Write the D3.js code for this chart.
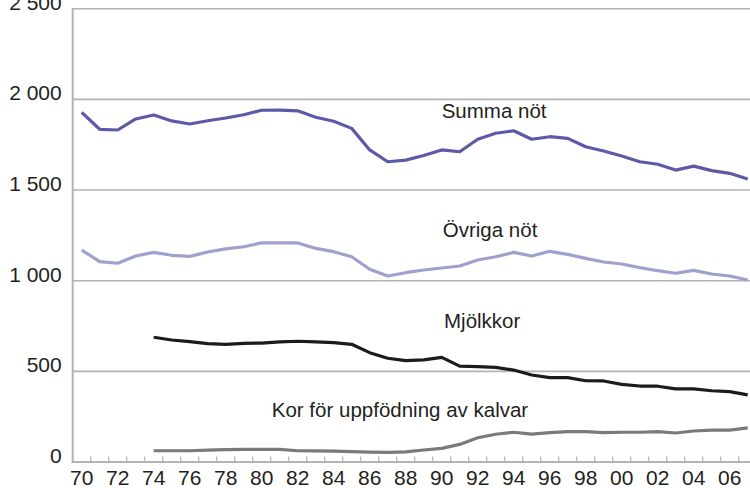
<!DOCTYPE html>
<html><head><meta charset="utf-8">
<script src="https://cdn.jsdelivr.net/npm/d3@7"></script>
<style>
html,body{margin:0;padding:0;background:#fff;overflow:hidden}
svg{display:block;font-family:"Liberation Sans",Arial,sans-serif}
</style></head>
<body>
<svg id="c" width="750" height="488"></svg>
<script>
const years = d3.range(1970, 2008);
const yTicks = [0, 500, 1000, 1500, 2000, 2500];
const yTickLabels = ["0", "500", "1 000", "1 500", "2 000", "2 500"];
const xTickLabels = ["70","72","74","76","78","80","82","84","86","88","90","92","94","96","98","00","02","04","06"];
const seriesNames = ["Summa nöt", "Övriga nöt", "Mjölkkor", "Kor för uppfödning av kalvar"];
const summaNot = [1928,1835,1831,1892,1914,1881,1864,1882,1897,1915,1940,1941,1937,1901,1879,1840,1721,1656,1665,1690,1721,1711,1780,1813,1827,1780,1794,1785,1739,1715,1688,1656,1642,1610,1632,1607,1592,1561];
const ovrigaNot = [1169,1105,1096,1136,1156,1140,1134,1158,1175,1187,1209,1209,1208,1178,1160,1132,1063,1026,1044,1059,1070,1081,1114,1132,1156,1136,1162,1145,1123,1103,1092,1072,1055,1041,1057,1037,1026,1004];
const mjolkkor = [null,null,null,null,688,673,664,653,649,654,656,662,666,662,658,649,603,572,559,563,577,529,526,522,507,480,465,465,448,447,428,419,418,403,403,393,388,370];
const korUppf = [null,null,null,null,62,62,62,66,68,70,70,70,62,61,60,57,55,53,56,66,75,97,134,153,164,154,162,167,167,162,164,164,167,160,171,176,176,188];
const seriesValues = [summaNot, ovrigaNot, mjolkkor, korUppf];
const seriesColors = ["#5c5aa8", "#a0a0d0", "#1b1b1b", "#7a7a7a"];
// label anchor: [year, value] for the text's start/baseline
const labelAnchors = [[1990.0, 1899], [1990.06, 1243], [1990.13, 739], [1980.56, 250]];

const svg = d3.select("#c");
const x0 = 72.7, yBottom = 462, yTop = 8.7;
const x = d3.scaleBand().domain(years).range([x0, x0 + years.length * 18]).padding(0);
const y = d3.scaleLinear().domain([0, 2500]).range([yBottom, yTop]);
const xc = d => x(d) + x.bandwidth() / 2;
const gray = "#b3b3b3";
const textColor = "#231f20";

// gridlines
svg.append("g").selectAll("line").data(yTicks.slice(1)).join("line")
  .attr("x1", x0).attr("x2", 750)
  .attr("y1", d => y(d)).attr("y2", d => y(d))
  .attr("stroke", gray).attr("stroke-width", 1.6);

// axes lines
svg.append("line").attr("x1", x0).attr("x2", x0).attr("y1", yTop - 0.8).attr("y2", yBottom + 1)
  .attr("stroke", gray).attr("stroke-width", 2);
svg.append("line").attr("x1", x0 - 1).attr("x2", 750).attr("y1", yBottom).attr("y2", yBottom)
  .attr("stroke", gray).attr("stroke-width", 2);

// x ticks at category boundaries (pointing up)
svg.append("g").selectAll("line").data(years.slice(1)).join("line")
  .attr("x1", d => x(d)).attr("x2", d => x(d))
  .attr("y1", yBottom).attr("y2", yBottom - 5.5)
  .attr("stroke", gray).attr("stroke-width", 1.2);

// y labels
svg.append("g").selectAll("text").data(yTicks).join("text")
  .attr("x", 61.7).attr("y", d => y(d) + 1)
  .attr("text-anchor", "end").attr("font-size", 21).attr("fill", textColor)
  .text((d, i) => yTickLabels[i]);

// x labels
const labelYears = years.filter((d, i) => i % 2 === 0 && i / 2 < xTickLabels.length);
svg.append("g").selectAll("text").data(labelYears).join("text")
  .attr("x", d => xc(d)).attr("y", 485)
  .attr("text-anchor", "middle").attr("font-size", 21).attr("fill", textColor)
  .text((d, i) => xTickLabels[i]);

// lines
const line = d3.line().defined(d => d.v != null).x(d => xc(d.year)).y(d => y(d.v));
seriesValues.forEach((vals, i) => {
  svg.append("path")
    .datum(years.map((yr, j) => ({year: yr, v: vals[j]})))
    .attr("d", line).attr("fill", "none")
    .attr("stroke", seriesColors[i]).attr("stroke-width", 3.2)
    .attr("stroke-linejoin", "round").attr("stroke-linecap", "butt");
});

// series labels
const xLin = d3.scaleLinear().domain([1970, 2007]).range([xc(1970), xc(2007)]);
svg.append("g").selectAll("text").data(seriesNames).join("text")
  .attr("x", (d, i) => xLin(labelAnchors[i][0]))
  .attr("y", (d, i) => y(labelAnchors[i][1]))
  .attr("font-size", 20.5).attr("fill", textColor)
  .text(d => d);
</script>
</body></html>
